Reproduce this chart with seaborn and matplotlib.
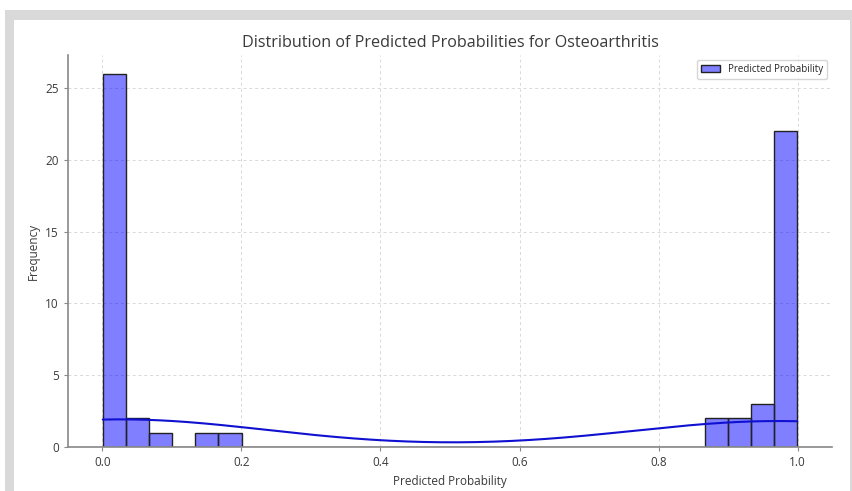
import matplotlib.pyplot as plt
import pandas as pd
import seaborn as sns
from matplotlib.patches import Rectangle

# predicted probabilities (30 bins over [0, 1])
low_probs = [
    0.0005, 0.001, 0.002, 0.003, 0.004, 0.005, 0.006, 0.007, 0.008, 0.009,
    0.010, 0.011, 0.012, 0.013, 0.014, 0.015, 0.016, 0.017, 0.018, 0.019,
    0.020, 0.022, 0.024, 0.026, 0.028, 0.030,
    0.040, 0.055,
    0.080,
    0.150,
    0.180,
]
high_probs = [
    0.875, 0.890,
    0.910, 0.925,
    0.940, 0.950, 0.960,
    0.970, 0.972, 0.974, 0.976, 0.978, 0.980, 0.982, 0.984, 0.986, 0.988,
    0.990, 0.991, 0.992, 0.993, 0.994, 0.995, 0.996, 0.997, 0.998, 0.9985,
    0.999, 0.9995,
]

df = pd.DataFrame({"Predicted Probability": low_probs + high_probs})

sns.set_style("whitegrid")
plt.rcParams["font.family"] = ["Open Sans", "DejaVu Sans"]

fig, ax = plt.subplots(figsize=(8.52, 4.91), dpi=100)

# screenshot frame
fig.patches.append(Rectangle((5 / 852, 0), 1, 481 / 491, transform=fig.transFigure,
                             facecolor="#d9d9d9", edgecolor="none", zorder=-10))
fig.patches.append(Rectangle((14 / 852, 0), 836 / 852, 471 / 491, transform=fig.transFigure,
                             facecolor="white", edgecolor="none", zorder=-9))

sns.histplot(
    data=df,
    x="Predicted Probability",
    bins=30,
    kde=True,
    color="blue",
    alpha=0.5,
    edgecolor="#222222",
    linewidth=1,
    line_kws={"linewidth": 1.5},
    label="Predicted Probability",
    ax=ax,
)
ax.lines[0].set_color("#1010d0")

ax.set_title("Distribution of Predicted Probabilities for Osteoarthritis",
             fontsize=11.6, color="#3a3a3a")
ax.set_xlabel("Predicted Probability", fontsize=8.5, color="#3a3a3a")
ax.set_ylabel("Frequency", fontsize=8.5, color="#3a3a3a")
ax.tick_params(labelsize=8.5, labelcolor="#3a3a3a", color="#888888", length=3,
               left=True, bottom=True)
ax.grid(True, linestyle=(0, (3, 3)), color="#d8d8d8", linewidth=0.7)
ax.set_facecolor("white")
for side in ["top", "right"]:
    ax.spines[side].set_visible(False)
for side in ["left", "bottom"]:
    ax.spines[side].set_color("#888888")
    ax.spines[side].set_linewidth(1.2)

handles, labels = ax.get_legend_handles_labels()
ax.legend(handles[-1:], labels[-1:], loc="upper right", fontsize=7, frameon=True)

fig.subplots_adjust(left=68 / 852, right=832 / 852, top=1 - 55 / 491, bottom=1 - 447 / 491)
fig.savefig("out.png", facecolor="white")
